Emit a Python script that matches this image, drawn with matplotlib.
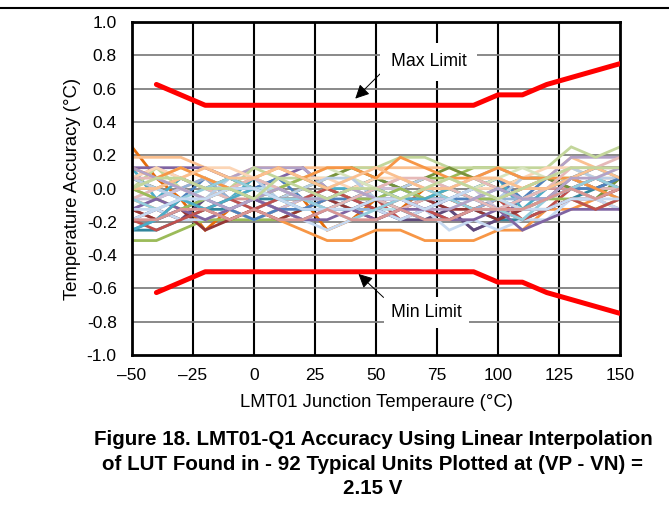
import matplotlib
matplotlib.use('Agg')
import matplotlib.pyplot as plt
from matplotlib.lines import Line2D
import numpy as np

plt.rcParams['font.family'] = ['Liberation Sans', 'DejaVu Sans']

# Temperaturas medidas (°C)
temps = [-50, -40, -30, -20, -10, 0, 10, 20, 30, 40, 50, 60, 70, 80, 90, 100, 110, 120, 130, 140, 150]

# Limites de precisão
limit_temps = [-40, -20, 90, 100, 110, 120, 150]
max_limit = [0.625, 0.5, 0.5, 0.5625, 0.5625, 0.625, 0.75]
min_limit = [-0.625, -0.5, -0.5, -0.5625, -0.5625, -0.625, -0.75]

# Erro das unidades típicas em passos de 1/16 °C
units_lsb = [
    [4, 1, -1, -4, -2, -3, -2, -1, -4, -3, -1, -2, 0, -1, -2, -1, 0, 1, 0, 1, 0],
    [-1, -2, -3, -2, -3, -2, -3, -4, -5, -5, -4, -4, -5, -5, -5, -4, -4, -2, -2, -1, -2],
    [3, 3, 3, 2, 1, 2, 2, 2, 2, 2, 2, 2, 2, 2, 1, 1, 0, 1, 3, 2, 2],
    [2, 2, 2, 2, 1, 0, 1, 2, 0, -1, -1, -1, -1, -2, -4, -3, -1, 0, 1, 2, 2],
    [2, -1, 1, 0, -1, 1, 0, -1, 0, 0, -1, 0, -1, -1, 0, 1, -2, 0, 1, 0, 1],
    [-5, -5, -4, -3, -3, -3, -3, -2, -1, 0, 1, 0, 1, 1, 2, 2, 1, 1, 1, 0, 1],
    [-2, -3, -1, -2, -3, -2, -1, 0, -1, -2, -1, -3, -2, -1, -2, -1, -3, -2, 0, -1, 0],
    [1, 0, -1, 1, 0, 0, 1, -1, -1, 0, 1, 0, -1, -1, 0, 1, -1, 1, 0, 1, 0],
    [1, 2, 1, 0, 1, 2, 2, 2, 0, -1, 0, 1, 0, 0, 1, 2, 1, 1, 3, 3, 3],
    [-1, 0, -1, -2, -1, 0, 0, -1, -1, -2, -2, -2, -3, -2, -1, -2, -1, 0, 1, 0, -1],
    [0, 2, 0, -1, 0, 2, 1, 1, 1, 2, 2, 3, 3, 2, 2, 2, 2, 2, 4, 3, 4],
    [0, -1, 0, 1, -1, -1, 0, 1, 0, -1, 0, 0, 1, 0, -1, -1, 0, 0, 0, 1, 0],
    [-2, -1, 0, 1, -1, -2, -1, 0, -1, -2, -2, -3, -2, -3, -2, -1, -1, -1, 0, 0, -1],
    [-4, -4, -3, -2, -2, -1, -1, -1, -2, -2, -1, -2, -3, -3, -2, -3, -3, -2, -1, 0, 0],
    [-3, -2, -3, -1, 0, -1, -2, -3, -2, -1, -2, -3, -3, -2, -4, -3, -2, -1, 1, 0, 1],
    [-2, -3, -2, -4, -3, -2, -3, -2, -1, -2, -3, -2, -1, -2, -2, -3, -2, -2, -1, -1, 0],
    [1, 0, 1, 0, 1, 0, -1, 0, 1, 2, 1, 0, 1, 2, 1, 0, 1, 1, 0, -1, 1],
    [1, 2, 1, 2, 2, 1, 0, 1, 1, 0, 1, 1, 0, 1, 0, 0, 1, 2, 2, 1, 1],
    [-1, -1, 0, -1, -2, -1, -2, -1, 0, 1, 0, 0, -1, -1, 0, -2, -2, -1, 0, -1, -2],
    [-3, -2, -3, -3, -2, -3, -2, -3, -4, -3, -2, -3, -2, -4, -3, -4, -3, -3, -1, -1, -2],
    [0, 1, 2, 1, 0, -1, 0, 1, 2, 1, 0, -1, 0, 1, 0, 1, 2, 1, 2, 1, 2],
    [-1, 0, 1, 0, -1, 0, -1, -2, -1, 0, -1, -2, -1, 0, 1, 0, -1, 0, 1, 0, 0],
    [1, 0, -1, -1, 1, 1, -1, 0, 1, 1, -1, 0, 1, 0, -1, -1, 1, 1, 2, 1, 1],
    [-4, -3, -2, -1, -2, -3, -2, -2, -1, -1, 0, -1, -2, -1, -1, -2, -1, -1, 0, 0, 1],
    [2, 1, 2, 1, 0, 1, 2, 1, 2, 2, 1, 3, 2, 1, 1, 2, 1, 1, 1, 0, -1],
    [0, -1, -2, -1, 0, -1, 0, 1, 0, -1, -1, 0, -1, 0, -1, -1, -2, -1, -1, -2, -1],
    [-2, -1, -2, -3, -2, -1, -2, -3, -3, -2, -3, -2, -2, -3, -3, -2, -4, -3, -2, -2, -2],
    [-3, -4, -3, -2, -1, -2, -1, -1, 0, -1, -2, -1, -2, -3, -2, -2, -3, -2, -1, -2, -1],
    [-4, -3, -1, -2, -1, 0, -1, -2, -2, -1, 0, -1, -1, 0, -1, 0, -1, 0, 1, 2, 1],
    [1, 1, 0, -1, 0, 1, 0, -1, -2, -1, 0, 1, 1, 0, -1, -2, -1, 0, 2, 2, 3],
    [-1, -2, -1, 0, 1, 0, -1, -1, -2, -3, -2, -1, 0, -1, -2, -2, -3, -1, 0, 1, 0],
    [0, 0, 1, 2, 1, 1, 2, 1, 0, 1, 2, 1, 0, 0, 1, 1, 0, 0, 1, 2, 1],
    [2, 1, 0, -1, -2, -1, 0, -1, -1, 0, -1, -1, -2, -2, -1, 0, -1, -1, 1, 1, 2],
    [-2, -2, -1, -1, 0, 0, -1, -2, -2, -2, -1, -1, -2, -1, 0, -1, -2, -2, -1, -1, -1],
    [-3, -3, -2, -2, -3, -2, -3, -3, -2, -3, -3, -2, -3, -3, -2, -2, -2, -1, 0, -1, 0],
    [0, 1, 1, 0, 0, -1, 1, 0, -1, 0, 0, -1, 0, 1, 0, -1, 0, 1, 2, 2, 2],
]

# Paleta estilo Excel
colors = ['#E46C0A', '#F79646', '#FAC090', '#8064A2', '#4BACC6', '#9BBB59',
          '#C0504D', '#4F81BD', '#B3A2C7', '#B7DEE8', '#C3D69B', '#D99694',
          '#95B3D7', '#31859C', '#604A7B', '#953735', '#77933C', '#FCD5B5',
          '#CCC1DA', '#C6D9F1', '#D7E4BD', '#E6B9B8', '#B9CDE5', '#4F81BD',
          '#F79646', '#9BBB59', '#8064A2', '#C0504D', '#4BACC6', '#E6B9B8',
          '#93CDDD', '#FAC090', '#B3A2C7', '#C6D9F1', '#D99694', '#C3D69B']

x_ticks = [-50, -25, 0, 25, 50, 75, 100, 125, 150]
x_labels = ['\u201350', '\u201325', '0', '25', '50', '75', '100', '125', '150']
y_ticks = [-1.0, -0.8, -0.6, -0.4, -0.2, 0.0, 0.2, 0.4, 0.6, 0.8, 1.0]

fig = plt.figure(figsize=(6.69, 5.17), dpi=100)
ax = fig.add_axes([0.1973, 0.3133, 0.7295, 0.6441])

# Linhas de grade
for t in x_ticks[1:-1]:
    ax.axvline(t, color='black', lw=1.5, zorder=1)
for v in y_ticks[1:-1]:
    ax.axhline(v, color='#808080', lw=1.3, zorder=1)

# Unidades típicas
for i, serie in enumerate(units_lsb):
    ax.plot(temps, np.array(serie) / 16.0, color=colors[i % len(colors)],
            lw=2.0, zorder=2, solid_joinstyle='miter')

# Limites
ax.plot(limit_temps, max_limit, color='#FF0000', lw=3.6, zorder=4, solid_capstyle='round')
ax.plot(limit_temps, min_limit, color='#FF0000', lw=3.6, zorder=4, solid_capstyle='round')

ax.set_xlim(-50, 150)
ax.set_ylim(-1.0, 1.0)
ax.set_xticks(x_ticks)
ax.set_xticklabels(x_labels)
ax.set_yticks(y_ticks)
ax.set_yticklabels([f'{v:.1f}' for v in y_ticks])
ax.tick_params(length=0, labelsize=12.5, pad=11)
ax.tick_params(axis='x', pad=9)
for s in ax.spines.values():
    s.set_linewidth(2)

ax.set_xlabel('LMT01 Junction Temperaure (\u00b0C)', fontsize=13.3, labelpad=8)
ax.set_ylabel('Temperature Accuracy (\u00b0C)', fontsize=13.3, labelpad=4)

# Anotações
arrow = dict(arrowstyle='-|>,head_length=0.7,head_width=0.35', color='black',
             lw=0.7, shrinkA=0, shrinkB=0, mutation_scale=12)
ax.annotate('Max Limit', xy=(41.5, 0.54), xytext=(71.5, 0.76), fontsize=12.8,
            ha='center', va='center', zorder=5,
            bbox=dict(boxstyle='square,pad=0.6', fc='white', ec='none'),
            arrowprops=dict(arrow, relpos=(0, 0.42)))
ax.annotate('Min Limit', xy=(42.8, -0.513), xytext=(70.5, -0.745), fontsize=12.8,
            ha='center', va='center', zorder=5,
            bbox=dict(boxstyle='square,pad=0.4', fc='white', ec='none'),
            arrowprops=dict(arrow, relpos=(0, 1)))

# Linha superior da página e legenda da figura
fig.add_artist(Line2D([0, 1], [1 - 8 / 517, 1 - 8 / 517], color='black', lw=1.5))
fig.text(0.5575, 1 - 464 / 517,
         'Figure 18. LMT01-Q1 Accuracy Using Linear Interpolation\n'
         'of LUT Found in - 92 Typical Units Plotted at (VP - VN) =\n2.15 V',
         ha='center', va='center', fontsize=14.8, fontweight='bold', linespacing=1.34)

plt.savefig('out.png', dpi=100)
